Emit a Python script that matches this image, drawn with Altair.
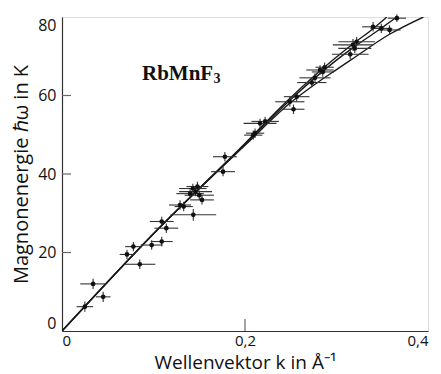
import altair as alt
import pandas as pd

# measured data points: wave vector k (1/Å), magnon energy (K), horizontal and vertical error
k_vals = [0.025, 0.034, 0.045, 0.071, 0.078, 0.085, 0.098, 0.109, 0.109, 0.114,
          0.129, 0.133, 0.1435, 0.140, 0.143, 0.146, 0.148, 0.150, 0.153, 0.176,
          0.178, 0.209, 0.2164, 0.222, 0.211, 0.249, 0.253, 0.2565, 0.273, 0.2765,
          0.282, 0.285, 0.287, 0.315, 0.318, 0.322, 0.320, 0.340, 0.349, 0.358, 0.366]
e_vals = [6.2, 12.0, 8.7, 19.5, 21.5, 17.0, 21.9, 22.8, 27.9, 26.2,
          32.1, 31.7, 29.6, 35.0, 36.3, 35.5, 36.8, 34.6, 33.4, 40.6,
          44.4, 49.9, 52.9, 53.4, 50.4, 58.4, 56.5, 59.7, 63.3, 64.5,
          66.5, 66.0, 67.2, 70.5, 72.9, 73.7, 72.0, 77.5, 77.1, 76.7, 79.7]
k_err = [0.009, 0.014, 0.008, 0.008, 0.009, 0.017, 0.012, 0.012, 0.013, 0.013,
         0.012, 0.010, 0.025, 0.015, 0.015, 0.018, 0.012, 0.016, 0.013, 0.013,
         0.013, 0.010, 0.018, 0.015, 0.010, 0.016, 0.012, 0.014, 0.016, 0.017,
         0.015, 0.012, 0.010, 0.020, 0.022, 0.020, 0.018, 0.012, 0.012, 0.012, 0.010]
e_err = [1.3, 1.3, 1.3, 1.2, 1.2, 1.2, 1.2, 1.2, 1.2, 1.2,
         1.2, 1.2, 1.5, 1.2, 1.2, 1.2, 1.2, 1.2, 1.2, 1.2,
         1.2, 1.2, 1.2, 1.2, 1.2, 1.2, 1.2, 1.2, 1.2, 1.2,
         1.2, 1.2, 1.2, 1.2, 1.5, 1.2, 1.2, 1.2, 1.2, 1.2, 1.0]

# theoretical dispersion curves
curve_a_k = [0, 0.1, 0.2, 0.25, 0.3, 0.32, 0.34, 0.355]
curve_a_e = [0, 24.8, 47.8, 59.5, 69.8, 73.5, 77.0, 80]
curve_b_k = [0, 0.1, 0.2, 0.25, 0.3, 0.32, 0.345, 0.366]
curve_b_e = [0, 24.8, 47.6, 59.0, 69.0, 72.5, 76.5, 80]
curve_c_k = [0, 0.1, 0.2, 0.25, 0.275, 0.3, 0.3166, 0.358, 0.395]
curve_c_e = [0, 24.8, 47.3, 58.2, 62.6, 66.6, 69.2, 75.6, 80]

x_ticks = [0, 0.2, 0.4]
y_ticks = [0, 20, 40, 60, 80]
x_inner_ticks = [0.2]
y_inner_ticks = [20, 40, 60]

label_main = "RbMnF"
label_sub = "3"
label_k = 0.0874
label_e = 64.0
label_sub_k = 0.1655
label_e_sub = 63.3

FONT = "Open Sans"

pts = pd.DataFrame({"k": k_vals, "E": e_vals, "dk": k_err, "dE": e_err})
pts["k_lo"] = pts["k"] - pts["dk"]
pts["k_hi"] = pts["k"] + pts["dk"]
pts["E_lo"] = pts["E"] - pts["dE"]
pts["E_hi"] = pts["E"] + pts["dE"]

curves = pd.concat([
    pd.DataFrame({"k": curve_a_k, "E": curve_a_e, "c": "a", "o": range(len(curve_a_k))}),
    pd.DataFrame({"k": curve_b_k, "E": curve_b_e, "c": "b", "o": range(len(curve_b_k))}),
    pd.DataFrame({"k": curve_c_k, "E": curve_c_e, "c": "c", "o": range(len(curve_c_k))}),
])

xs = alt.Scale(domain=[0, 0.4], nice=False, zero=False)
ys = alt.Scale(domain=[0, 80], nice=False, zero=False)

x_axis = alt.Axis(values=x_ticks, title="Wellenvektor k in Å⁻¹", grid=False, ticks=False,
                  labelExpr="datum.value == 0 ? '0' : replace(format(datum.value, '.1f'), '.', ',')",
                  labelFontSize=15, titleFontSize=19, labelPadding=2, titlePadding=5,
                  labelFont=FONT, titleFont=FONT, titleFontWeight="normal",
                  labelColor="#111", titleColor="#111", domainColor="#333", domainWidth=1.2)
y_axis = alt.Axis(values=y_ticks, title="Magnonenergie ℏω in K", grid=False, ticks=False,
                  labelFlush=True, labelFontSize=16, titleFontSize=20, labelPadding=6, titlePadding=6,
                  labelFont=FONT, titleFont=FONT, titleFontWeight="normal",
                  labelColor="#111", titleColor="#111", domainColor="#333", domainWidth=1.2)

base_x = alt.X("k:Q", scale=xs, axis=x_axis)
base_y = alt.Y("E:Q", scale=ys, axis=y_axis)

lines = alt.Chart(curves).mark_line(color="#1a1a1a", strokeWidth=1.4, interpolate="monotone", clip=True).encode(
    x=base_x, y=base_y, detail="c:N", order="o:Q")

xerr = alt.Chart(pts).mark_rule(color="#333", strokeWidth=1.1).encode(
    x=alt.X("k_lo:Q", scale=xs), x2="k_hi:Q", y=alt.Y("E:Q", scale=ys))
yerr = alt.Chart(pts).mark_rule(color="#333", strokeWidth=1.1).encode(
    x=alt.X("k:Q", scale=xs), y=alt.Y("E_lo:Q", scale=ys), y2="E_hi:Q")
dots = alt.Chart(pts).mark_circle(color="#111", size=22, opacity=1).encode(
    x=alt.X("k:Q", scale=xs), y=alt.Y("E:Q", scale=ys))

ytick_df = pd.DataFrame({"E": y_inner_ticks})
yticks = alt.Chart(ytick_df).mark_rule(color="#666", strokeWidth=1.2).encode(
    y=alt.Y("E:Q", scale=ys), x=alt.value(0), x2=alt.value(9))
xtick_df = pd.DataFrame({"k": x_inner_ticks})
xticks = alt.Chart(xtick_df).mark_rule(color="#666", strokeWidth=1.2).encode(
    x=alt.X("k:Q", scale=xs), y=alt.value(314), y2=alt.value(302))

lab_df = pd.DataFrame({"k": [label_k], "E": [label_e], "t": [label_main]})
lab = alt.Chart(lab_df).mark_text(font="Liberation Serif", fontWeight="bold", fontSize=21,
                                  align="left", baseline="alphabetic", color="#111").encode(
    x=alt.X("k:Q", scale=xs), y=alt.Y("E:Q", scale=ys), text="t:N")
sub_df = pd.DataFrame({"k": [label_sub_k], "E": [label_e_sub], "t": [label_sub]})
sub = alt.Chart(sub_df).mark_text(font="Liberation Serif", fontWeight="bold", fontSize=14,
                                  align="left", baseline="alphabetic", color="#111").encode(
    x=alt.X("k:Q", scale=xs), y=alt.Y("E:Q", scale=ys), text="t:N")

chart = alt.layer(lines, xerr, yerr, dots, yticks, xticks, lab, sub).properties(
    width=366, height=314,
    padding={"left": 54, "top": 9, "right": 5, "bottom": 43},
    autosize=alt.AutoSizeParams(type="none"),
).configure_view(stroke="#888", strokeWidth=1.2).configure(background="white")

chart.save("out.html", embed_options={"renderer": "svg", "actions": False})
